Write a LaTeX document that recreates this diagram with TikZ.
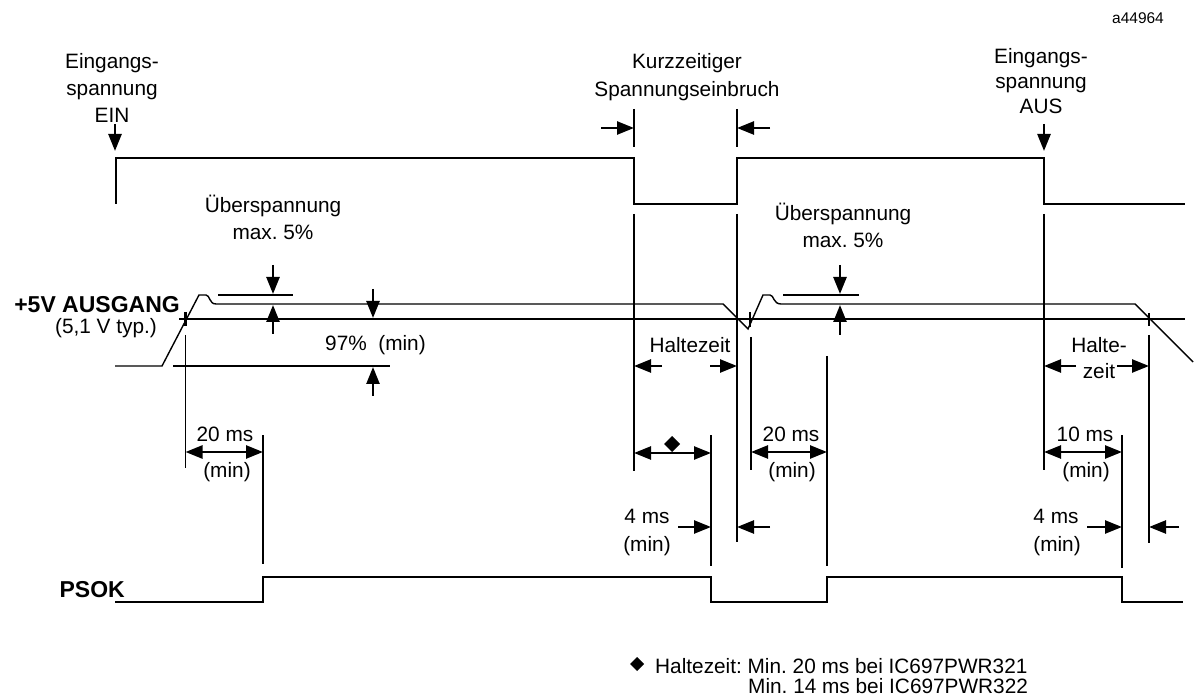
\documentclass[tikz,border=0pt]{standalone}
\usepackage{fontspec}
\setmainfont{Liberation Sans}
\usetikzlibrary{arrows.meta}
\begin{document}
\frenchspacing
\begin{tikzpicture}[x=1pt,y=-1pt,
  lbl/.style={font=\fontsize{20.8}{26}\selectfont\frenchspacing, inner sep=0pt, anchor=base},
  blbl/.style={font=\fontsize{23}{28}\selectfont\bfseries, inner sep=0pt, anchor=base east},
  sig/.style={line width=1.6pt},
  guide/.style={line width=1.4pt},
  arr/.style={line width=2.5pt, -{Triangle[length=17pt,width=13pt]}},
  darr/.style={line width=2.5pt, {Triangle[length=17pt,width=13pt]}-{Triangle[length=17pt,width=13pt]}},
  tick/.style={line width=2.5pt},
]
\useasboundingbox (0,0) rectangle (1194,700);

% ---------------- texts
\node[lbl] (ein1) at (112,69) {Eingangs-};
\node[lbl] (ein2) at (112,96) {spannung};
\node[lbl] (ein3) at (112,123) {EIN};
\node[lbl] (kz1) at (687,69) {Kurzzeitiger};
\node[lbl] (kz2) at (687,97) {Spannungseinbruch};
\node[lbl] (aus1) at (1041,64) {Eingangs-};
\node[lbl] (aus2) at (1041,89) {spannung};
\node[lbl] (aus3) at (1041,114) {AUS};
\node[lbl, font=\fontsize{15.5}{18}\selectfont] (id) at (1138,23.5) {a44964};
\node[lbl] (ue1) at (273,213) {Überspannung};
\node[lbl] (ue2) at (273,240) {max. 5\%};
\node[lbl] (ue3) at (843,221) {Überspannung};
\node[lbl] (ue4) at (843,248) {max. 5\%};
\node[blbl] (out) at (180,313) {+5V AUSGANG};
\node[lbl, anchor=base east] (typ) at (157,334) {(5,1 V typ.)};
\node[lbl, anchor=base west] (p97) at (325,351) {97\%\ \ (min)};
\node[lbl] (hz1) at (690,353) {Haltezeit};
\node[lbl] (hz2) at (1099,353) {Halte-};
\node[lbl] (hz3) at (1099,379) {zeit};
\node[lbl] (t20a) at (225,441) {20 ms};
\node[lbl] (m20a) at (227,477) {(min)};
\node[lbl] (t20b) at (791,441) {20 ms};
\node[lbl] (m20b) at (792,477) {(min)};
\node[lbl] (t10) at (1085,441) {10 ms};
\node[lbl] (m10) at (1086,477) {(min)};
\node[lbl] (t4a) at (647,523) {4 ms};
\node[lbl] (m4a) at (647,551) {(min)};
\node[lbl] (t4b) at (1056,523) {4 ms};
\node[lbl] (m4b) at (1057,551) {(min)};
\node[blbl] (psok) at (125,597) {PSOK};
\node[lbl, anchor=base west] (fn1) at (655,673) {Haltezeit: Min. 20 ms bei IC697PWR321};
\node[lbl, anchor=base west] (fn2) at (748,693) {Min. 14 ms bei IC697PWR322};
\fill (637,657) -- (644,664) -- (637,671) -- (630,664) -- cycle;

% ---------------- input voltage signal
\draw[sig] (116,204) -- (116,158) -- (634,158) -- (634,204) -- (737,204) -- (737,158)
  -- (1044,158) -- (1044,204) -- (1185,204);
\draw[arr] (115,124) -- (115,151);
\draw[arr] (1044,124) -- (1044,151);
\draw[tick] (634,109) -- (634,147);
\draw[tick] (737,109) -- (737,147);
\draw[arr] (601,128) -- (634,128);
\draw[arr] (770,128) -- (737,128);

% ---------------- +5V output
\draw[guide] (115,366) -- (162,366) -- (199,295) -- (206,295)
  .. controls (210,295) and (209,304) .. (216,304) -- (723,304) -- (748,329)
  -- (763,295) -- (770,295) .. controls (774,295) and (773,304) .. (781,304)
  -- (1135,304) -- (1193,362);
\draw[guide] (185,319) -- (1122,319);
\draw[line width=2.7pt] (1122,319) -- (1185,319);
\draw[guide] (173,366) -- (390,366);
% crossing marks
\draw[line width=2.2pt] (185.5,312) -- (185.5,326) (179,319) -- (192,319);
\draw[line width=2.2pt] (750,312) -- (750,327) (741,319) -- (758,319);
\draw[line width=2.2pt] (1149,313) -- (1149,326);
% overshoot bars
\draw[tick] (218,295) -- (293,295);
\draw[tick] (783,295) -- (859,295);
\draw[arr] (273,265) -- (273,294);
\draw[arr] (273,334) -- (273,305);
\draw[arr] (840,265) -- (840,294);
\draw[arr] (840,335) -- (840,305);
\draw[arr] (373,289) -- (373,318);
\draw[arr] (373,396) -- (373,367);

% ---------------- vertical guide lines
\draw[guide] (634,214) -- (634,471);
\draw[guide] (737,214) -- (737,542);
\draw[guide] (1044,214) -- (1044,470);
\draw[guide] (185.5,335) -- (185.5,468);
\draw[guide] (263,435) -- (263,564);
\draw[guide] (711,435) -- (711,566);
\draw[guide] (751,337) -- (751,470);
\draw[guide] (827,356) -- (827,566);
\draw[guide] (1149,335) -- (1149,543);
\draw[line width=2.8pt] (1122,435) -- (1122,568);

% ---------------- dimension arrows
\draw[arr] (662,366) -- (634,366);
\draw[arr] (710,366) -- (737,366);
\draw[arr] (1076,366) -- (1044,366);
\draw[arr] (1117,366) -- (1149,366);
\draw[darr] (185.5,452) -- (263,452);
\draw[darr] (634,453) -- (711,453);
\fill (672,436) -- (680,444) -- (672,452) -- (664,444) -- cycle;
\draw[darr] (751,452) -- (827,452);
\draw[darr] (1044,452) -- (1122,452);
\draw[arr] (678,527) -- (711,527);
\draw[arr] (770,527) -- (737,527);
\draw[arr] (1087,527) -- (1122,527);
\draw[arr] (1179,527) -- (1149,527);

% ---------------- PSOK
\draw[sig] (115,602) -- (263,602) -- (263,577) -- (711,577) -- (711,602) -- (827,602)
  -- (827,577) -- (1122,577) -- (1122,602) -- (1183,602);
\end{tikzpicture}
\end{document}
